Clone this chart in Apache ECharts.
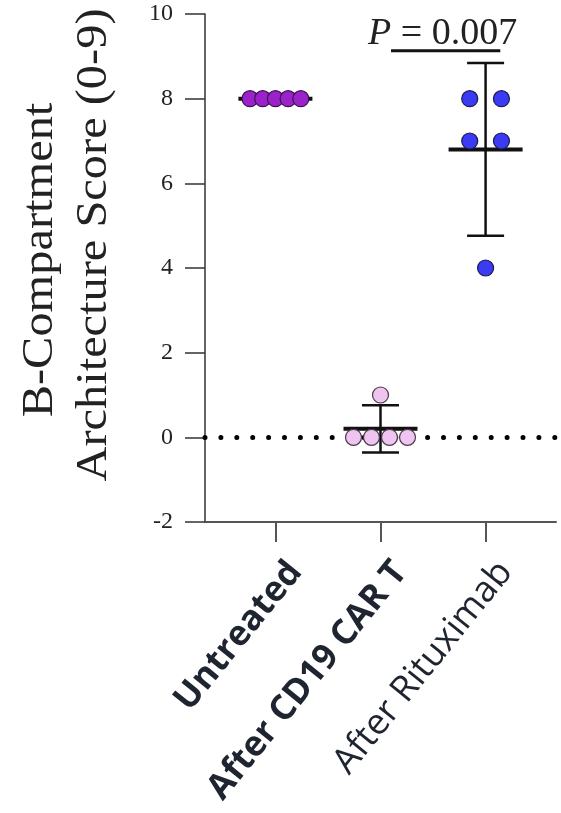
<!DOCTYPE html>
<html>
<head>
<meta charset="utf-8">
<script src="https://cdn.jsdelivr.net/npm/echarts@6.0.0/dist/echarts.min.js"></script>
<style>
  html, body { margin: 0; padding: 0; background: #fff; }
  #my-chart { width: 561px; height: 813px; }
</style>
</head>
<body>
<div id="my-chart"></div>
<script>
// groups and the scores
const categories = ["Untreated", "After CD19 CAR T", "After Rituximab"];
const untreated = [8, 8, 8, 8, 8];
const afterCarT = [1, 0, 0, 0, 0];
const afterRituximab = [8, 8, 7, 7, 4];
// mean and error bar half-length as drawn
const groupMean = [8, 0.2, 6.8];
const groupErr = [0, 0.56, 2.04];
// significance bracket: from x, to x, height, text
const sigBracket = [2.1, 3.14, 9.13];
const sigText = "{i|P} = 0.007";
const yTicks = { min: -2, max: 10, interval: 2 };

const groups = [untreated, afterCarT, afterRituximab];
const fills = ["#9a22c8", "#f0c4f0", "#3b3bf4"];
const borders = ["#3a1050", "#4a3a4a", "#1a1a50"];
const spreadPx = [12.7, 18, 31.7];
const boldLabel = [true, true, false];

const xMin = 0.33, xMax = 3.67;
const gridLeft = 205, gridRight = 5, gridTop = 14, gridBottom = 291;
const pxPerUnit = (561 - gridLeft - gridRight) / (xMax - xMin);
const labelShift = 0.19;

// spread equal values sideways, like a column scatter
function spreadPoints(vals, gi) {
  const counts = {};
  vals.forEach((v) => { counts[v] = (counts[v] || 0) + 1; });
  const seen = {};
  return vals.map((v) => {
    const n = counts[v];
    const k = seen[v] || 0;
    seen[v] = k + 1;
    const off = (k - (n - 1) / 2) * spreadPx[gi] / pxPerUnit;
    return [gi + 1 + off, v];
  });
}

const scatterSeries = groups.map((vals, gi) => ({
  name: categories[gi],
  type: "scatter",
  z: 5,
  symbol: "circle",
  symbolSize: 16,
  itemStyle: { color: fills[gi], borderColor: borders[gi], borderWidth: 1.2, opacity: 1 },
  data: spreadPoints(vals, gi),
}));

const errData = groupMean.map((m, i) => [i + 1, m, groupErr[i]]);

const myChart = echarts.init(document.getElementById("my-chart"));
const option = {
  animation: false,
  grid: { left: gridLeft, right: gridRight, top: gridTop, bottom: gridBottom },
  xAxis: {
    type: "value",
    min: xMin,
    max: xMax,
    splitLine: { show: false },
    axisLine: { show: true, onZero: false, lineStyle: { color: "#555", width: 2 } },
    axisTick: { show: true, customValues: [1, 2, 3], length: 20, lineStyle: { color: "#555", width: 2 } },
    axisLabel: {
      customValues: [1 + labelShift, 2 + labelShift, 3 + labelShift],
      rotate: 51,
      margin: 44,
      formatter: (v) => {
        const i = Math.round(v - labelShift) - 1;
        return (boldLabel[i] ? "{b|" : "{n|") + categories[i] + "}";
      },
      rich: {
        b: { fontFamily: "Open Sans", fontWeight: "bold", fontSize: 35, color: "#1f2530" },
        n: { fontFamily: "Open Sans", fontWeight: "normal", fontSize: 36, color: "#1f2530" },
      },
    },
  },
  yAxis: {
    type: "value",
    min: yTicks.min,
    max: yTicks.max,
    interval: yTicks.interval,
    splitLine: { show: false },
    axisLine: { show: true, lineStyle: { color: "#333", width: 1.5 } },
    axisTick: { show: true, length: 20, lineStyle: { color: "#333", width: 1.5 } },
    axisLabel: {
      margin: 32,
      fontFamily: "Liberation Serif",
      fontSize: 24,
      color: "#222",
    },
  },
  graphic: [
    {
      type: "text", x: 40, y: 260, rotation: Math.PI / 2, scaleX: 1.1,
      style: { text: "B-Compartment", font: '44px "Liberation Serif"', textAlign: "center", textVerticalAlign: "middle", fill: "#222" },
    },
    {
      type: "text", x: 94, y: 245, rotation: Math.PI / 2, scaleX: 1.1,
      style: { text: "Architecture Score (0-9)", font: '44px "Liberation Serif"', textAlign: "center", textVerticalAlign: "middle", fill: "#222" },
    },
  ],
  series: [
    {
      name: "mean ± error",
      type: "custom",
      z: 3,
      data: errData,
      renderItem: (params, api) => {
        const x = api.value(0), m = api.value(1), e = api.value(2);
        const c = api.coord([x, m]);
        const style = { stroke: "#111", lineWidth: 2.5 };
        const kids = [
          { type: "line", shape: { x1: c[0] - 37, y1: c[1], x2: c[0] + 37, y2: c[1] }, style: { stroke: "#111", lineWidth: 4 } },
        ];
        if (e > 0) {
          const t = api.coord([x, m + e]);
          const b = api.coord([x, m - e]);
          kids.push(
            { type: "line", shape: { x1: c[0], y1: t[1], x2: c[0], y2: b[1] }, style },
            { type: "line", shape: { x1: c[0] - 18.5, y1: t[1], x2: c[0] + 18.5, y2: t[1] }, style },
            { type: "line", shape: { x1: c[0] - 18.5, y1: b[1], x2: c[0] + 18.5, y2: b[1] }, style }
          );
        }
        return { type: "group", children: kids };
      },
      markLine: {
        silent: true,
        symbol: "none",
        label: { show: false },
        lineStyle: { color: "#000", type: [0, 15.9], width: 5, cap: "round" },
        data: [{ yAxis: 0 }],
      },
    },
    {
      name: "significance",
      type: "custom",
      z: 4,
      data: [sigBracket],
      renderItem: (params, api) => {
        const a = api.coord([api.value(0), api.value(2)]);
        const b = api.coord([api.value(1), api.value(2)]);
        return {
          type: "group",
          children: [
            { type: "line", shape: { x1: a[0], y1: a[1], x2: b[0], y2: b[1] }, style: { stroke: "#111", lineWidth: 3 } },
            {
              type: "text",
              x: (a[0] + b[0]) / 2 - 3,
              y: a[1] + 2,
              style: {
                text: sigText,
                font: '38px "Liberation Serif"',
                fill: "#222",
                textAlign: "center",
                textVerticalAlign: "bottom",
                rich: { i: { fontStyle: "italic", fontFamily: "Liberation Serif", fontSize: 38 } },
              },
            },
          ],
        };
      },
    },
  ].concat(scatterSeries),
};
myChart.setOption(option);
</script>
</body>
</html>
